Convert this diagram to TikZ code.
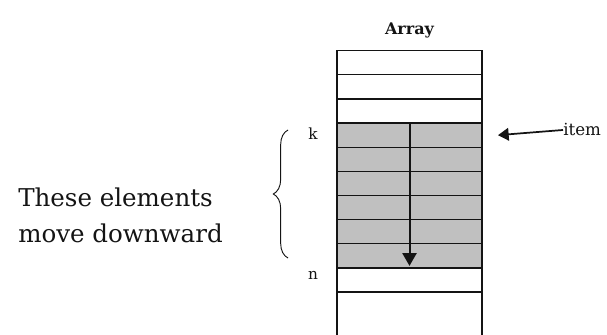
\documentclass[tikz,border=0pt]{standalone}
\usepackage{fontspec}
\setmainfont{DejaVu Serif}
\usetikzlibrary{arrows.meta,positioning,calc,decorations.pathreplacing}
\definecolor{shade}{RGB}{192,192,192}
\definecolor{ink}{RGB}{20,20,20}
\tikzset{
  >={Triangle[length=9.5pt,width=10.5pt]},
  cell/.style={draw=ink,fill=#1,line width=1pt,minimum width=108.75pt,
    minimum height=18.1pt,inner sep=0pt,outer sep=0pt},
  cell/.default=white,
  mark label/.style={font=\fontsize{11.5}{12}\selectfont,text=ink,inner sep=0pt},
  shift arrow/.style={->,line width=1.5pt,draw=ink},
}
\begin{document}
\begin{tikzpicture}[x=0.75pt,y=-0.75pt]
    \useasboundingbox (0,0) rectangle (607,335);
    % the array cells
    \foreach \i in {1,...,10} {
      \ifnum\i>3 \ifnum\i<10 \def\c{shade}\else\def\c{white}\fi \else\def\c{white}\fi
      \node[cell=\c] (c\i) at (409.5,{50.7+24.13*(\i-0.5)}) {};
    }
    \draw[ink,line width=1pt] (c10.south west) -- (337,335) (c10.south east) -- (482,335);
    \node[font=\fontsize{12}{13}\selectfont\bfseries,text=ink,anchor=base,inner sep=0pt] (title) at (409.5,35) {Array};
    % shifting
    \draw[shift arrow,shorten >=1.5pt] (c4.north) -- (c9.south);
    \node[mark label,anchor=base] (k) at ($(c4.north west)+(-24,16)$) {k};
    \node[mark label,anchor=base] (n) at ($(c10.north west)+(-24,12)$) {n};
    \coordinate (tip) at ($(c4.east)+(16,0)$);
    \node[mark label,anchor=base west,font=\fontsize{12.5}{13}\selectfont] (item) at (563,136) {item};
    \draw[shift arrow,line width=1.3pt,-{Triangle[length=8pt,width=9.5pt]}] (item.west) -- (tip);
    \coordinate (bb) at (288,258);
    \coordinate (bt) at (288,130);
    \draw[ink,line width=0.7pt,decorate,decoration={brace,amplitude=11pt}] (bb) -- (bt);
    \node[align=left,text=ink,font=\fontsize{18.4}{27}\selectfont,anchor=west,inner sep=0pt] (note) at (18,215.5) {These elements\\move downward};
  \end{tikzpicture}
\end{document}
